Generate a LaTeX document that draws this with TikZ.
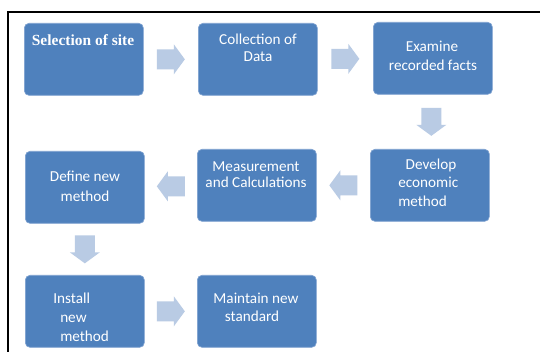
\documentclass[tikz,border=0pt]{standalone}
\usepackage{fontspec}
\setmainfont{Carlito}
\newfontfamily\titlefont{Liberation Serif}
\usetikzlibrary{calc}
\definecolor{boxblue}{HTML}{4F81BD}
\definecolor{boxedge}{HTML}{7FA2D0}
\definecolor{arrowblue}{HTML}{B9CBE4}
\begin{document}
\begin{tikzpicture}[x=0.75pt,y=-0.75pt,
  stepbox/.style={draw=boxedge, line width=0.5pt, fill=boxblue, rounded corners=3.5pt,
    minimum width=89.25pt, minimum height=54pt, inner sep=0pt, anchor=north west},
  steptext/.style={text=white, font=\fontsize{11.4}{13.7}\selectfont, inner sep=0pt, anchor=base},
  blockarrow/.pic={\fill[arrowblue] (-14,-10) -- (3,-10) -- (3,-15) -- (14,0) -- (3,15) -- (3,10) -- (-14,10) -- cycle;}
]
\useasboundingbox (0,0) rectangle (540,352);
\clip (0,0) rectangle (540,352);
\fill[white] (0,0) rectangle (540,352);
% outer frame, running off the right and bottom edges
\draw[line width=1.5pt] (7.5,12.5) rectangle (560,370);

% process steps
\node[stepbox] (s1) at (24,23) {};
\node[stepbox] (s2) at (198,23) {};
\node[stepbox] (s3) at (373,22) {};
\node[stepbox] (s4) at (25,151) {};
\node[stepbox] (s5) at (197,149) {};
\node[stepbox] (s6) at (370,149) {};
\node[stepbox] (s7) at (25,275) {};
\node[stepbox] (s8) at (197,275) {};

% step labels
\node[steptext, font=\titlefont\bfseries\fontsize{11.6}{14}\selectfont] (l1) at (83,46) {Selection of site};
\node[steptext] (l2a) at (258,45) {Collection of};
\node[steptext] (l2b) at (258,62) {Data};
\node[steptext] (l3a) at (432,52) {Examine};
\node[steptext] (l3b) at (433,71) {recorded facts};
\node[steptext] (l4a) at (85,182) {Define new};
\node[steptext] (l4b) at (85,202) {method};
\node[steptext] (l5a) at (256,172) {Measurement};
\node[steptext] (l5b) at (256,188) {and Calculations};
\node[steptext] (l6a) at (431,170) {Develop};
\node[steptext, anchor=base west] (l6b) at (398,188) {economic};
\node[steptext, anchor=base west] (l6c) at (398,207) {method};
\node[steptext, anchor=base west] (l7a) at (53,304) {Install};
\node[steptext, anchor=base west] (l7b) at (60,323) {new};
\node[steptext, anchor=base west] (l7c) at (60,342) {method};
\node[steptext] (l8a) at (256,304) {Maintain new};
\node[steptext] (l8b) at (252,322) {standard};

% block arrows between steps
\pic at ($(s1.east)!0.5!(s2.west)$) {blockarrow};
\pic at ($(s2.east)!0.5!(s3.west)$) {blockarrow};
\pic[rotate=-90] at ($(s3.south)!0.5!(s6.north)$) {blockarrow};
\pic[rotate=180] at ($(s6.west)!0.5!(s5.east)$) {blockarrow};
\pic[rotate=180] at ($(s5.west)!0.5!(s4.east)$) {blockarrow};
\pic[rotate=-90] at ($(s4.south)!0.5!(s7.north)$) {blockarrow};
\pic at ($(s7.east)!0.5!(s8.west)$) {blockarrow};
\end{tikzpicture}
\end{document}
